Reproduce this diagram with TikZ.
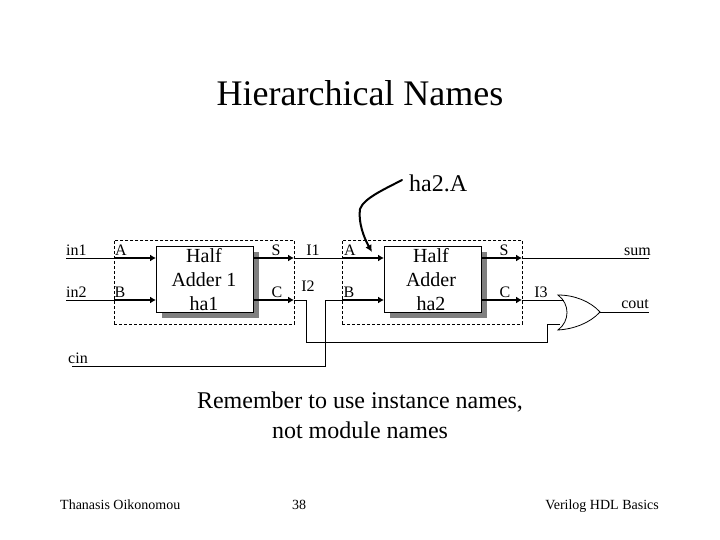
\documentclass[tikz,border=0pt]{standalone}
\usepackage{fontspec}
\setmainfont{Liberation Serif}
\usetikzlibrary{arrows.meta,calc}
\tikzset{
  txt/.style={inner sep=0pt,font=\fontsize{#1}{#1}\selectfont,text=black},
  lab/.style={txt=16,anchor=base},
  wire/.style={draw=black,line width=1pt},
  pin/.style={draw=black,line width=1.8pt,-{Latex[length=6pt,width=7pt]}},
  dbox/.style={draw=black,dashed,dash pattern=on 3pt off 2pt,line width=0.8pt,minimum width=180pt,minimum height=84pt,inner sep=0pt,anchor=north west},
  block/.style={draw=black,fill=white,line width=1pt,minimum width=97pt,minimum height=66pt,inner sep=0pt,anchor=north west},
  shade/.style={fill=black!50,draw=none,minimum width=97pt,minimum height=66pt,inner sep=0pt,anchor=north west}
}
\begin{document}
\begin{tikzpicture}[x=1pt,y=-1pt]
\useasboundingbox (0,0) rectangle (720,540);
\fill[white] (0,0) rectangle (720,540);
% title & texts
\node[txt=36,anchor=base] (title) at (360,106) {Hierarchical Names};
\node[txt=24,anchor=base] (l1) at (360,408) {Remember to use instance names,};
\node[txt=24,anchor=base] (l2) at (360,438) {not module names};
\node[txt=14,anchor=base west] (f1) at (60,509) {Thanasis Oikonomou};
\node[txt=14,anchor=base] (f2) at (299,509) {38};
\node[txt=14,anchor=base east] (f3) at (659,509) {Verilog HDL Basics};
\node[txt=24,anchor=base west] (ha) at (409,192) {ha2.A};
% boxes
\node[shade] (sh1) at (162,252) {};
\node[shade] (sh2) at (390,252) {};
\node[dbox] (d1) at (114,240) {};
\node[dbox] (d2) at (342,240) {};
\node[block] (b1) at (156,246) {};
\node[block] (b2) at (384,246) {};
\node[txt=20,anchor=base] (t1a) at (204,262) {Half};
\node[txt=20,anchor=base] (t1b) at (204,286) {Adder 1};
\node[txt=20,anchor=base] (t1c) at (204,310) {ha1};
\node[txt=20,anchor=base] (t2a) at (431,262) {Half};
\node[txt=20,anchor=base] (t2b) at (431,286) {Adder};
\node[txt=20,anchor=base] (t2c) at (431,310) {ha2};
% labels
\node[lab,anchor=base west] (in1) at (66,255) {in1};
\node[lab,anchor=base west] (in2) at (66,297) {in2};
\node[lab,anchor=base west] (cin) at (68,363) {cin};
\node[lab] (A1) at (121,255) {A};
\node[lab] (B1) at (120,297) {B};
\node[lab] (S1) at (276,255) {S};
\node[lab] (C1) at (277,297) {C};
\node[lab] (I1) at (313,255) {I1};
\node[lab] (I2) at (308,291) {I2};
\node[lab] (A2) at (350,255) {A};
\node[lab] (B2) at (349,297) {B};
\node[lab] (S2) at (504,255) {S};
\node[lab] (C2) at (505,297) {C};
\node[lab] (I3) at (541,297) {I3};
\node[lab,anchor=base east] (sum) at (651,255) {sum};
\node[lab,anchor=base east] (cout) at (649,308) {cout};
% coordinates
\coordinate (ws1) at (66,258);
\coordinate (ws2) at (66,300);
\coordinate (c1) at (72,366);
\coordinate (a1) at (114,258);
\coordinate (e1) at (114,300);
\coordinate (o1) at (294,258);
\coordinate (o2) at (294,300);
\coordinate (a2) at (342,258);
\coordinate (e2) at (342,300);
\coordinate (o3) at (522,258);
\coordinate (o4) at (522,300);
\coordinate (sumend) at (649,258);
\coordinate (couta) at (600,312);
\coordinate (coutb) at (649,312);
\coordinate (g1) at (564,300);
\coordinate (g2) at (560,324);
% wires
\draw[wire] (ws1) -- (a1);
\draw[wire] (ws2) -- (e1);
\draw[pin] (a1) -- (a1 -| b1.west);
\draw[pin] (e1) -- (e1 -| b1.west);
\draw[pin] (a1 -| b1.east) -- (o1);
\draw[pin] (e1 -| b1.east) -- (o2);
\draw[wire] (o1) -- (a2);
\draw[pin] (a2) -- (a2 -| b2.west);
\draw[pin] (e2) -- (e2 -| b2.west);
\draw[pin] (a2 -| b2.east) -- (o3);
\draw[pin] (e2 -| b2.east) -- (o4);
\draw[wire] (o3) -- (sumend);
\draw[wire] (o4) -- (g1);
\draw[wire] (o2) -- (306,300) -- (306,342) -- (547,342) -- (547,324) -- (g2);
\draw[wire] (c1) -- (325,366) -- (325,300) -- (e2);
\draw[wire] (couta) -- (coutb);
% OR gate
\draw[black,line width=0.8pt] (558,295) .. controls (574,295) and (590,301) .. (couta)
  .. controls (590,323) and (574,329) .. (558,330)
  .. controls (570,321) and (570,304) .. cycle;
% callout
\draw[black,line width=2pt,line cap=round,-{Latex[length=7pt,width=7pt]}] (402,180) .. controls (385,189) and (364,198) .. (360,209)
  .. controls (358,222) and (364,238) .. (372,252);
\end{tikzpicture}
\end{document}
